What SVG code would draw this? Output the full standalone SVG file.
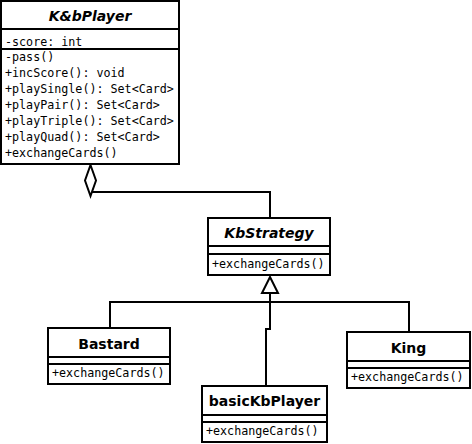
<svg xmlns="http://www.w3.org/2000/svg" width="472" height="444" viewBox="0 0 472 444">
<style>
.box{fill:#fff;stroke:#000;stroke-width:2}
.ln{fill:none;stroke:#000;stroke-width:2}
.t{font-family:"DejaVu Sans",sans-serif;font-weight:bold;font-size:14px;text-anchor:middle;fill:#000}
.i{font-style:oblique}
.m{font-family:"DejaVu Sans Mono",monospace;font-size:11.7px;fill:#000}
</style>
<rect width="472" height="444" fill="#fff"/>
<g id="connectors">
<polyline class="ln" points="270,218 270,192 91,192"/>
<polygon class="box" points="90.5,165 96,180.5 90.5,196 85,180.5"/>
<path class="ln" d="M270,293 V329 H266 V386"/>
<path class="ln" d="M110,328 V302 H409 V332"/>
<polygon class="box" points="270,277 278,293 262,293"/>
</g>
<g id="KbPlayer">
<rect class="box" x="1" y="1" width="178" height="163"/>
<line class="ln" x1="1" y1="29" x2="179" y2="29"/>
<line class="ln" x1="1" y1="49" x2="179" y2="49"/>
<text class="t i" x="90" y="21">K&amp;bPlayer</text>
<text class="m" x="5" y="46">-score: int</text>
<text class="m" x="5" y="61">-pass()</text>
<text class="m" x="5" y="77">+incScore(): void</text>
<text class="m" x="5" y="93">+playSingle(): Set&lt;Card&gt;</text>
<text class="m" x="5" y="109">+playPair(): Set&lt;Card&gt;</text>
<text class="m" x="5" y="125">+playTriple(): Set&lt;Card&gt;</text>
<text class="m" x="5" y="141">+playQuad(): Set&lt;Card&gt;</text>
<text class="m" x="5" y="157">+exchangeCards()</text>
</g>
<g id="KbStrategy">
<rect class="box" x="208" y="218" width="122" height="57"/>
<line class="ln" x1="208" y1="246" x2="330" y2="246"/>
<line class="ln" x1="208" y1="254" x2="330" y2="254"/>
<text class="t i" x="269" y="238">KbStrategy</text>
<text class="m" x="212" y="268">+exchangeCards()</text>
</g>
<g id="Bastard">
<rect class="box" x="48" y="328" width="122" height="56"/>
<line class="ln" x1="48" y1="357" x2="170" y2="357"/>
<line class="ln" x1="48" y1="364" x2="170" y2="364"/>
<text class="t" x="109" y="349">Bastard</text>
<text class="m" x="52" y="377">+exchangeCards()</text>
</g>
<g id="King">
<rect class="box" x="347" y="332" width="123" height="56"/>
<line class="ln" x1="347" y1="361" x2="470" y2="361"/>
<line class="ln" x1="347" y1="368" x2="470" y2="368"/>
<text class="t" x="408.5" y="353">King</text>
<text class="m" x="351" y="381">+exchangeCards()</text>
</g>
<g id="basicKbPlayer">
<rect class="box" x="202" y="386" width="125" height="56"/>
<line class="ln" x1="202" y1="415" x2="327" y2="415"/>
<line class="ln" x1="202" y1="422" x2="327" y2="422"/>
<text class="t" x="264.5" y="406">basicKbPlayer</text>
<text class="m" x="206" y="435">+exchangeCards()</text>
</g>
</svg>
